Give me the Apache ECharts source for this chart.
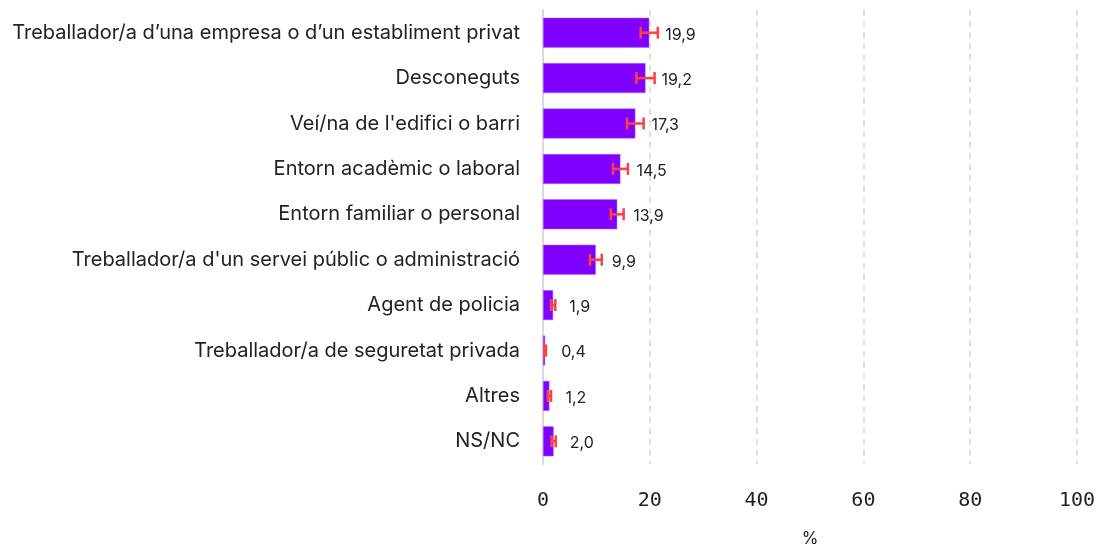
<!DOCTYPE html>
<html>
<head>
<meta charset="utf-8">
<script src="https://cdn.jsdelivr.net/npm/echarts@6/dist/echarts.min.js"></script>
<style>
  html, body { margin: 0; padding: 0; background: #fff; }
  #chart { width: 1099px; height: 544px; }
</style>
</head>
<body>
<div id="chart"></div>
<script>
const categories = [
  'Treballador/a d\u2019una empresa o d\u2019un establiment privat',
  'Desconeguts',
  'Veí/na de l\'edifici o barri',
  'Entorn acadèmic o laboral',
  'Entorn familiar o personal',
  'Treballador/a d\'un servei públic o administració',
  'Agent de policia',
  'Treballador/a de seguretat privada',
  'Altres',
  'NS/NC'
]
const values = [19.9, 19.2, 17.3, 14.5, 13.9, 9.9, 1.9, 0.4, 1.2, 2.0]
const errLow = [18.3, 17.5, 15.75, 13.1, 12.7, 8.8, 1.5, 0.25, 0.9, 1.6]
const errHigh = [21.5, 20.9, 18.85, 15.9, 15.1, 11.0, 2.3, 0.55, 1.5, 2.4]
const xTicks = [0, 20, 40, 60, 80, 100]

const fontFamily = 'Inter, "Noto Sans", sans-serif'
const monoFamily = '"DejaVu Sans Mono", monospace'
const chart = echarts.init(document.getElementById('chart'))

const errData = values.map((v, i) => [errLow[i], errHigh[i], i])

const option = {
  animation: false,
  grid: { left: 543, right: 22, top: 10, bottom: 80, outerBoundsMode: 'none' },
  xAxis: {
    type: 'value',
    min: xTicks[0],
    max: xTicks[xTicks.length - 1],
    interval: 20,
    name: '%',
    nameLocation: 'middle',
    nameGap: 66,
    nameTextStyle: { fontFamily, fontSize: 17, color: '#222' },
    axisLine: { show: false },
    axisTick: { show: false },
    axisLabel: { fontFamily: monoFamily, fontSize: 20, color: '#222', margin: 27 },
    splitLine: {
      lineStyle: { color: '#d6d6d6', type: [6, 5], width: 1.5 }
    }
  },
  yAxis: {
    type: 'category',
    data: categories,
    inverse: true,
    axisLine: { show: true, lineStyle: { color: '#d9d9d9', width: 2 } },
    axisTick: { show: false },
    axisLabel: { fontFamily, fontSize: 20, color: '#222', margin: 23 }
  },
  series: [
    {
      type: 'bar',
      data: values,
      barWidth: 30,
      itemStyle: { color: '#8000ff', borderColor: '#b070ff', borderWidth: 0.5 },
      label: {
        show: true,
        position: 'right',
        distance: 16,
        fontFamily,
        fontSize: 16,
        color: '#222',
        offset: [0, 2],
        formatter: p => p.value.toFixed(1).replace('.', ',')
      }
    },
    {
      type: 'custom',
      data: errData,
      z: 10,
      encode: { x: [0, 1], y: 2 },
      renderItem: (params, api) => {
        const y = api.value(2)
        const lo = api.coord([api.value(0), y])
        const hi = api.coord([api.value(1), y])
        const h = 6
        const style = { stroke: '#ff4040', lineWidth: 2.5 }
        return {
          type: 'group',
          children: [
            { type: 'line', shape: { x1: lo[0], y1: lo[1], x2: hi[0], y2: hi[1] }, style },
            { type: 'line', shape: { x1: lo[0], y1: lo[1] - h, x2: lo[0], y2: lo[1] + h }, style },
            { type: 'line', shape: { x1: hi[0], y1: hi[1] - h, x2: hi[0], y2: hi[1] + h }, style }
          ]
        }
      }
    }
  ]
}

chart.setOption(option)
</script>
</body>
</html>
